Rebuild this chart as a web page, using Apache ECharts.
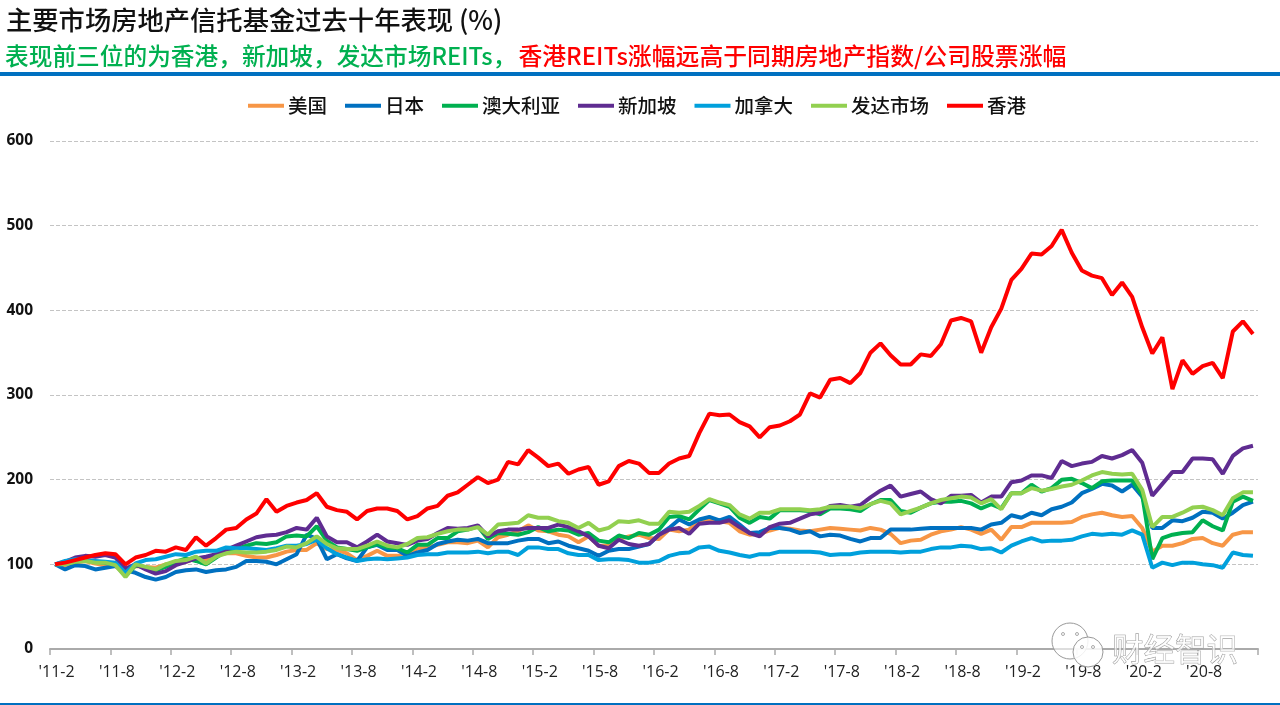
<!DOCTYPE html>
<html><head><meta charset="utf-8">
<style>html,body{margin:0;padding:0;background:#fff}#c{width:1280px;height:705px}</style>
<script src="https://cdn.jsdelivr.net/npm/echarts@6/dist/echarts.min.js"></script>
</head><body><div id="c"></div>
<script>
const categories = [
"'11-2","'11-3","'11-4","'11-5","'11-6","'11-7","'11-8","'11-9","'11-10","'11-11","'11-12",
"'12-1","'12-2","'12-3","'12-4","'12-5","'12-6","'12-7","'12-8","'12-9","'12-10","'12-11","'12-12",
"'13-1","'13-2","'13-3","'13-4","'13-5","'13-6","'13-7","'13-8","'13-9","'13-10","'13-11","'13-12",
"'14-1","'14-2","'14-3","'14-4","'14-5","'14-6","'14-7","'14-8","'14-9","'14-10","'14-11","'14-12",
"'15-1","'15-2","'15-3","'15-4","'15-5","'15-6","'15-7","'15-8","'15-9","'15-10","'15-11","'15-12",
"'16-1","'16-2","'16-3","'16-4","'16-5","'16-6","'16-7","'16-8","'16-9","'16-10","'16-11","'16-12",
"'17-1","'17-2","'17-3","'17-4","'17-5","'17-6","'17-7","'17-8","'17-9","'17-10","'17-11","'17-12",
"'18-1","'18-2","'18-3","'18-4","'18-5","'18-6","'18-7","'18-8","'18-9","'18-10","'18-11","'18-12",
"'19-1","'19-2","'19-3","'19-4","'19-5","'19-6","'19-7","'19-8","'19-9","'19-10","'19-11","'19-12",
"'20-1","'20-2","'20-3","'20-4","'20-5","'20-6","'20-7","'20-8","'20-9","'20-10","'20-11","'20-12","'21-1"];
const usa = [100,99,102,104,101,99,98,88,98,97,96,100,101,103,107,105,111,113,113,110,108,108,111,115,117,117,125,118,117,113,105,110,116,110,110,112,119,120,123,126,126,125,128,120,132,135,139,146,140,139,135,133,126,133,122,122,130,133,135,131,130,141,139,141,151,152,151,149,139,135,136,140,143,142,140,139,141,143,142,141,140,143,141,136,125,128,129,135,139,141,144,141,136,141,129,144,144,149,149,149,149,150,156,159,161,158,156,157,143,115,122,122,125,130,131,125,122,135,138,138];
const japan = [100,94,99,98,94,96,98,93,90,85,82,85,91,93,94,91,93,94,97,104,104,103,100,106,112,135,130,106,112,107,104,120,123,117,117,110,114,117,124,127,129,128,130,125,125,125,128,130,130,125,127,122,119,116,110,116,118,118,121,124,135,143,153,147,153,156,152,156,147,137,138,143,143,141,137,139,133,135,134,130,127,131,131,141,141,141,142,143,143,143,143,143,141,147,149,158,155,161,158,165,168,173,184,189,195,193,186,194,180,143,143,152,151,155,162,161,154,161,170,174];
const australia = [100,101,103,105,103,102,100,86,99,96,93,97,103,107,104,100,108,116,118,122,125,124,126,133,134,133,145,128,120,118,116,120,124,120,119,114,123,123,131,131,139,141,145,130,137,136,135,138,144,139,141,140,135,137,128,126,134,131,137,135,141,156,157,153,165,176,172,168,155,149,156,154,164,164,164,163,159,166,166,165,163,171,176,176,163,161,167,172,174,174,175,172,166,171,166,184,184,194,186,190,200,201,196,190,198,199,199,199,182,106,131,135,137,138,152,145,140,174,180,175];
const singapore = [100,103,108,110,109,111,108,95,100,94,89,92,99,103,107,109,112,117,122,127,132,134,135,138,143,141,155,133,126,126,120,127,135,127,125,123,128,130,137,143,142,143,146,133,139,141,141,143,143,143,147,144,139,133,122,119,129,124,122,124,135,141,143,136,148,149,149,152,144,137,133,144,148,149,154,159,161,169,170,168,170,179,187,193,180,183,186,177,172,181,181,182,173,180,180,197,199,205,205,202,222,216,219,221,228,225,229,235,220,181,195,209,209,225,225,224,207,228,237,240];
const canada = [100,104,106,105,104,103,102,90,101,105,106,109,112,111,115,116,116,120,119,119,118,117,119,122,122,124,129,119,112,108,104,106,107,106,107,108,111,112,112,114,114,114,115,113,115,115,111,120,120,118,118,113,111,111,105,106,106,105,102,102,104,110,113,114,120,121,116,114,111,109,112,112,115,115,115,115,114,111,112,112,114,115,115,115,114,115,115,118,120,120,122,121,118,119,114,122,127,131,127,128,128,129,133,136,135,136,135,140,135,96,102,99,102,102,100,99,96,114,111,110];
const developed = [100,100,103,104,102,102,99,85,100,97,94,100,104,105,109,101,109,113,115,114,114,115,117,121,120,125,133,124,119,118,118,122,127,122,120,124,131,132,136,139,141,141,144,135,147,148,149,158,155,155,151,149,143,149,140,143,151,150,152,148,148,162,161,162,169,177,173,170,159,154,161,161,165,165,165,164,165,168,168,168,166,171,175,172,159,163,167,172,176,178,180,179,172,177,165,184,184,190,187,189,192,194,199,205,209,207,206,207,188,144,156,156,161,167,168,164,158,178,185,185];
const hongkong = [100,102,105,108,111,113,112,100,108,111,116,115,120,117,132,122,131,141,143,153,160,177,162,169,173,176,184,168,164,162,153,163,166,166,163,153,157,166,169,181,185,194,203,196,200,221,218,235,226,216,219,207,212,215,194,198,216,222,219,208,208,219,225,228,255,278,276,277,268,263,250,262,264,269,277,302,297,318,320,314,326,350,361,347,336,336,348,346,360,388,391,387,350,380,402,436,449,467,466,476,495,468,447,441,438,418,433,416,380,349,368,307,341,325,334,338,320,375,387,372];
const seriesNames = ['美国','日本','澳大利亚','新加坡','加拿大','发达市场','香港'];
const seriesColors = ['#F79646','#0070C0','#00B050','#5F2C91','#00A0DC','#92D050','#FF0000'];
const seriesValues = [usa,japan,australia,singapore,canada,developed,hongkong];
const yTicks = {min:0,max:600,interval:100};
const mainTitle = '主要市场房地产信托基金过去十年表现 (%)';
const subGreen = '表现前三位的为香港，新加坡，发达市场REITs，';
const subRed = '香港REITs涨幅远高于同期房地产指数/公司股票涨幅';
const watermark = '财经智识';

const font = '"Noto Sans CJK SC","Noto Sans",sans-serif';
const chart = echarts.init(document.getElementById('c'),null,{renderer:'canvas'});
chart.setOption({
  animation:false,
  backgroundColor:'#fff',
  textStyle:{fontFamily:font},
  title:[
    {text:mainTitle,left:1,top:2,textStyle:{fontFamily:font,fontSize:26.3,fontWeight:500,color:'#111'}},
    {text:'{g|'+subGreen+'}{r|'+subRed+'}',left:0,top:39,textStyle:{rich:{
      g:{fontFamily:font,fontSize:23.7,fontWeight:500,color:'#00B050'},
      r:{fontFamily:font,fontSize:23.85,fontWeight:500,color:'#FF0000',padding:[0,0,0,2]}}}}
  ],
  legend:{top:91,left:243,itemWidth:36,itemHeight:4,itemGap:18,icon:'rect',
    textStyle:{fontFamily:font,fontSize:19.5,fontWeight:500,color:'#111',padding:[0,0,0,-1]},
    data:seriesNames},
  grid:{left:50,right:22,top:141,bottom:56,containLabel:false},
  xAxis:{type:'category',data:categories,boundaryGap:true,
    axisLine:{lineStyle:{color:'#aaa',width:2}},
    axisTick:{show:true,interval:(i)=>i%6===0,length:6,lineStyle:{color:'#aaa',width:1.5}},
    axisLabel:{interval:(i)=>i%6===0,margin:15,fontSize:16,color:'#222',fontFamily:'"Open Sans",sans-serif',padding:[0,0,0,3]}},
  yAxis:{type:'value',min:yTicks.min,max:yTicks.max,interval:yTicks.interval,
    axisLine:{show:false},axisTick:{show:false},
    axisLabel:{margin:17,fontSize:15.5,fontWeight:'bold',color:'#111',fontFamily:'"Open Sans",sans-serif'},
    splitLine:{lineStyle:{color:'#c4c4c4',type:'dashed',width:1}}},
  series:seriesNames.map((n,k)=>({name:n,type:'line',data:seriesValues[k],showSymbol:false,symbol:'none',
    smooth:false,lineStyle:{width:4,color:seriesColors[k]},itemStyle:{color:seriesColors[k]},z:2+k})),
  graphic:[
    {type:'rect',left:0,top:72,shape:{width:1280,height:4},style:{fill:'#0070C0'},silent:true},
    {type:'rect',left:0,top:703,shape:{width:1280,height:2},style:{fill:'#0070C0'},silent:true},
    {type:'circle',shape:{cx:1070,cy:641,r:18},style:{fill:'rgba(255,255,255,0.6)',stroke:'#999',lineWidth:1},z:20,silent:true},
    {type:'circle',shape:{cx:1088,cy:652,r:15},style:{fill:'rgba(255,255,255,0.85)',stroke:'#999',lineWidth:1},z:21,silent:true},
    {type:'circle',shape:{cx:1063,cy:634,r:1.5},style:{fill:'#fff',stroke:'#aaa'},z:22,silent:true},
    {type:'circle',shape:{cx:1077,cy:634,r:1.5},style:{fill:'#fff',stroke:'#aaa'},z:22,silent:true},
    {type:'circle',shape:{cx:1082,cy:647,r:1.5},style:{fill:'#fff',stroke:'#aaa'},z:22,silent:true},
    {type:'circle',shape:{cx:1093,cy:647,r:1.5},style:{fill:'#fff',stroke:'#aaa'},z:22,silent:true},
    {type:'text',style:{x:1112,y:633,text:watermark,font:'31.5px '+font,fill:'rgba(255,255,255,0.7)',stroke:'#888',lineWidth:0.7},z:22,silent:true}
  ]
});
</script></body></html>
